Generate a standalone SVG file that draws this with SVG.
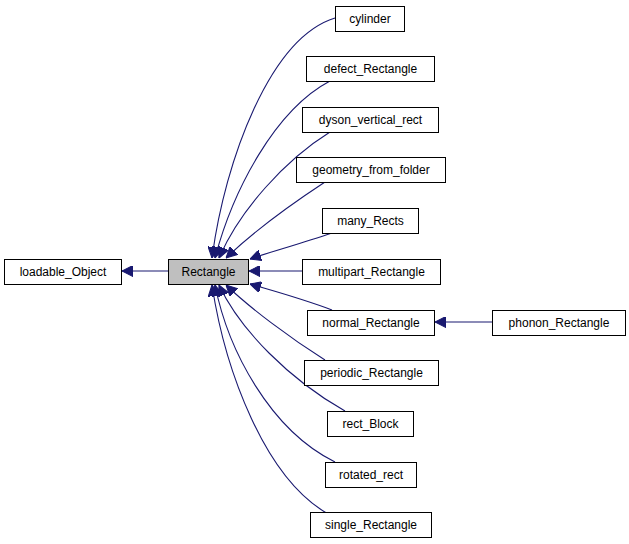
<svg xmlns="http://www.w3.org/2000/svg" width="629" height="544" viewBox="0 0 629 544">
<defs>
<style>
.n rect{fill:#fff;stroke:#000;stroke-width:1}
.n text{font-family:"Liberation Sans",Arial,sans-serif;font-size:12px;text-anchor:middle;fill:#000}
.e path{fill:none;stroke:#191970;stroke-width:1.1}
</style>
<marker id="a" viewBox="0 0 10 10" refX="10" refY="5" markerWidth="11" markerHeight="11" markerUnits="userSpaceOnUse" orient="auto"><path d="M0,0L10,5L0,10z" fill="#191970" stroke="#191970"/></marker>
</defs>
<rect width="629" height="544" fill="#fff"/>
<g class="e">
<path d="M168,271H122" marker-end="url(#a)"/>
<path d="M335,18C270,38 225,160 212,258" marker-end="url(#a)"/>
<path d="M330,81C275,110 233,190 215,258" marker-end="url(#a)"/>
<path d="M330,132C285,160 240,210 219,258" marker-end="url(#a)"/>
<path d="M325,182C290,205 250,235 226,258" marker-end="url(#a)"/>
<path d="M332,233C300,244 270,252 250,259" marker-end="url(#a)"/>
<path d="M302,271H249" marker-end="url(#a)"/>
<path d="M332,310C300,298 270,290 250,284" marker-end="url(#a)"/>
<path d="M492,322H435" marker-end="url(#a)"/>
<path d="M325,360C290,338 250,308 226,285" marker-end="url(#a)"/>
<path d="M345,411C290,380 240,330 219,285" marker-end="url(#a)"/>
<path d="M335,462C270,430 228,350 215,285" marker-end="url(#a)"/>
<path d="M330,515C265,480 225,370 212,285" marker-end="url(#a)"/>
</g>
<g id="loadable_Object" class="n"><rect x="4.5" y="259.5" width="117" height="25"/><text x="63" y="276">loadable_Object</text></g>
<g id="Rectangle" class="n"><rect x="168.5" y="259.5" width="80" height="25" style="fill:#bfbfbf"/><text x="208.5" y="276">Rectangle</text></g>
<g id="cylinder" class="n"><rect x="335.5" y="6.5" width="69" height="25"/><text x="370" y="23">cylinder</text></g>
<g id="defect_Rectangle" class="n"><rect x="306.5" y="56.5" width="128" height="25"/><text x="370.5" y="73">defect_Rectangle</text></g>
<g id="dyson_vertical_rect" class="n"><rect x="302.5" y="107.5" width="136" height="25"/><text x="370.5" y="124">dyson_vertical_rect</text></g>
<g id="geometry_from_folder" class="n"><rect x="296.5" y="157.5" width="149" height="25"/><text x="371" y="174">geometry_from_folder</text></g>
<g id="many_Rects" class="n"><rect x="322.5" y="208.5" width="96" height="25"/><text x="370.5" y="225">many_Rects</text></g>
<g id="multipart_Rectangle" class="n"><rect x="302.5" y="259.5" width="138" height="25"/><text x="371.5" y="276">multipart_Rectangle</text></g>
<g id="normal_Rectangle" class="n"><rect x="307.5" y="310.5" width="127" height="25"/><text x="371" y="327">normal_Rectangle</text></g>
<g id="phonon_Rectangle" class="n"><rect x="492.5" y="310.5" width="133" height="25"/><text x="559" y="327">phonon_Rectangle</text></g>
<g id="periodic_Rectangle" class="n"><rect x="304.5" y="360.5" width="134" height="25"/><text x="371.5" y="377">periodic_Rectangle</text></g>
<g id="rect_Block" class="n"><rect x="327.5" y="411.5" width="86" height="25"/><text x="370.5" y="428">rect_Block</text></g>
<g id="rotated_rect" class="n"><rect x="325.5" y="462.5" width="91" height="25"/><text x="371" y="479">rotated_rect</text></g>
<g id="single_Rectangle" class="n"><rect x="310.5" y="512.5" width="121" height="25"/><text x="371" y="529">single_Rectangle</text></g>
</svg>
